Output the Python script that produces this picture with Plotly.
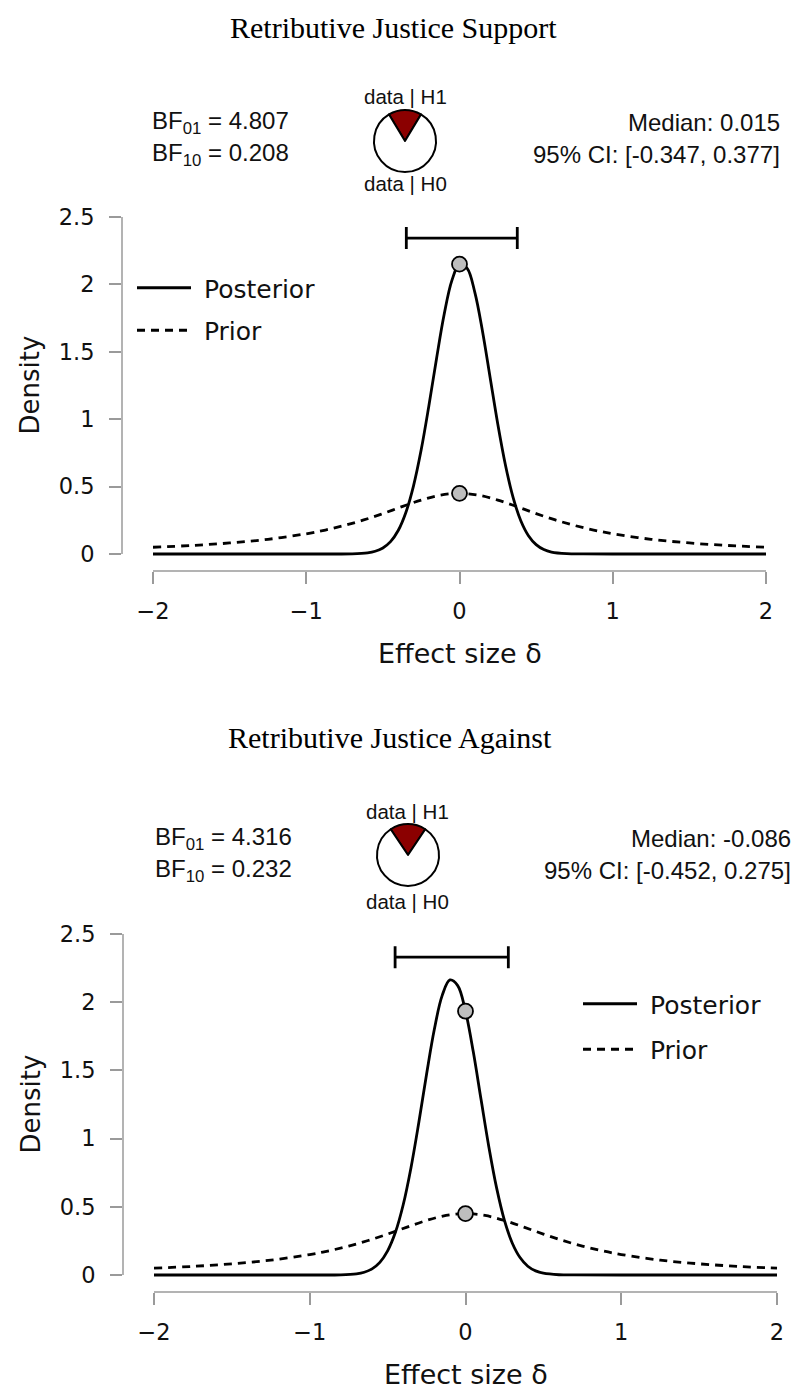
import plotly.graph_objects as go

# ---------------- data ----------------
titles = ["Retributive Justice Support", "Retributive Justice Against"]
bf01 = [4.807, 4.316]
bf10 = [0.208, 0.232]
medians = [0.015, -0.086]
ci_low = [-0.347, -0.452]
ci_high = [0.377, 0.275]

post1_x = [-2, -1, -0.8, -0.7, -0.6, -0.55, -0.5, -0.45, -0.4, -0.35, -0.3, -0.25, -0.2, -0.15, -0.1, -0.05,
           0, 0.05, 0.1, 0.15, 0.2, 0.25, 0.3, 0.35, 0.4, 0.45, 0.5, 0.55, 0.6, 0.7, 0.8, 1, 2]
post1_y = [0, 0, 0.0001, 0.0012, 0.0086, 0.0203, 0.045, 0.0915, 0.174, 0.308, 0.506, 0.773, 1.098, 1.449, 1.778, 2.028,
           2.150, 2.119, 1.941, 1.653, 1.308, 0.963, 0.659, 0.418, 0.247, 0.136, 0.0695, 0.033, 0.0145, 0.0023, 0.0003, 0, 0]

post2_x = [-2, -1, -0.8, -0.7, -0.65, -0.6, -0.55, -0.5, -0.45, -0.4, -0.35, -0.3, -0.25, -0.2, -0.15, -0.1, -0.05,
           0, 0.05, 0.1, 0.15, 0.2, 0.25, 0.3, 0.35, 0.4, 0.45, 0.5, 0.6, 0.7, 1, 2]
post2_y = [0, 0, 0.0012, 0.0086, 0.0204, 0.0451, 0.0927, 0.177, 0.313, 0.515, 0.787, 1.116, 1.472, 1.801, 2.048, 2.163, 2.122,
           1.934, 1.636, 1.286, 0.939, 0.637, 0.401, 0.235, 0.128, 0.0644, 0.0302, 0.0131, 0.0020, 0.0002, 0, 0]

prior_x = [-2, -1.75, -1.5, -1.25, -1, -0.875, -0.75, -0.625, -0.5, -0.375, -0.25, -0.125,
           0, 0.125, 0.25, 0.375, 0.5, 0.625, 0.75, 0.875, 1, 1.25, 1.5, 1.75, 2]
prior_y = [0.050, 0.0632, 0.0819, 0.109, 0.150, 0.1779, 0.212, 0.2527, 0.300, 0.3514, 0.400, 0.4366,
           0.450, 0.4366, 0.400, 0.3514, 0.300, 0.2527, 0.212, 0.1779, 0.150, 0.109, 0.0819, 0.0632, 0.050]

points1_x = [0, 0]
points1_y = [2.150, 0.450]
points2_x = [0, 0]
points2_y = [1.934, 0.450]

ci_level = [2.344, 2.33]

x_ticks = [-2, -1, 0, 1, 2]
y_ticks = [0, 0.5, 1, 1.5, 2, 2.5]

# ---------------- layout helpers (pixel geometry) ----------------
W, H = 810, 1393
def px(x):
    return x / W
def py(y):
    return 1 - y / H

geo = [
    dict(L=122, R=790, T=200, B=571, xm2=153, xp2=766, y0=554, y25=217),
    dict(L=123, R=800, T=920, B=1292, xm2=154, xp2=777, y0=1275, y25=934),
]

fig = go.Figure()

posts = [(post1_x, post1_y), (post2_x, post2_y)]
pts = [(points1_x, points1_y), (points2_x, points2_y)]
axis_col = "#9a9a9a"
text_col = "#111111"

layout_axes = {}
shapes = []
annotations = []

def ann(text, x, y, font, xanchor="center", **kw):
    d = dict(text=text, xref="paper", yref="paper", x=px(x), y=py(y), xanchor=xanchor, yanchor="middle",
             showarrow=False, font=font)
    d.update(kw)
    annotations.append(d)

tickfont = dict(family="DejaVu Sans", size=22.5, color=text_col)
for i, g in enumerate(geo):
    sx = (g["xp2"] - g["xm2"]) / 4.0
    sy = (g["y0"] - g["y25"]) / 2.5
    xr = [-2 - (g["xm2"] - g["L"]) / sx, 2 + (g["R"] - g["xp2"]) / sx]
    yr = [-(g["B"] - g["y0"]) / sy, 2.5 + (g["y25"] - g["T"]) / sy]
    xa = "x" if i == 0 else "x2"
    ya = "y" if i == 0 else "y2"
    xkey = "xaxis" if i == 0 else "xaxis2"
    ykey = "yaxis" if i == 0 else "yaxis2"
    layout_axes[xkey] = dict(
        domain=[px(g["L"]), px(g["R"])], range=xr, anchor=ya,
        tickvals=x_ticks, ticks="outside", ticklen=12, tickwidth=1.5, tickcolor=axis_col,
        showline=False, showgrid=False, zeroline=False, ticklabelstandoff=8, tickfont=tickfont,
    )
    layout_axes[ykey] = dict(
        domain=[py(g["B"]), py(g["T"])], range=yr, anchor=xa,
        tickvals=y_ticks, ticks="outside", ticklen=12, tickwidth=1.5, tickcolor=axis_col,
        showline=False, showgrid=False, zeroline=False, ticklabelstandoff=10, tickfont=tickfont,
    )
    shapes.append(dict(type="line", xref=xa + " domain", yref=ya, x0=0, x1=0, y0=0, y1=2.5,
                       line=dict(color=axis_col, width=1.5)))
    shapes.append(dict(type="line", xref=xa, yref=ya + " domain", x0=-2, x1=2, y0=0, y1=0,
                       line=dict(color=axis_col, width=1.5)))

    leg = "legend" if i == 0 else "legend2"
    fig.add_trace(go.Scatter(x=prior_x, y=prior_y, mode="lines",
                             line=dict(color="black", width=2.8, dash="8px,6px", shape="spline"),
                             name="\u00a0Prior", xaxis=xa, yaxis=ya, legend=leg, legendgroup=f"b{i}",
                             legendrank=2, hoverinfo="skip"))
    fig.add_trace(go.Scatter(x=posts[i][0], y=posts[i][1], mode="lines",
                             line=dict(color="black", width=2.8, shape="spline"),
                             name="\u00a0Posterior", xaxis=xa, yaxis=ya, legend=leg, legendgroup=f"a{i}",
                             legendrank=1, hoverinfo="skip"))
    fig.add_trace(go.Scatter(x=[medians[i]], y=[ci_level[i]], mode="markers",
                             marker=dict(size=1, color="rgba(0,0,0,0)"),
                             error_x=dict(type="data", symmetric=False, array=[ci_high[i] - medians[i]],
                                          arrayminus=[medians[i] - ci_low[i]], color="black", thickness=2.8, width=11),
                             xaxis=xa, yaxis=ya, showlegend=False, hoverinfo="skip"))
    fig.add_trace(go.Scatter(x=pts[i][0], y=pts[i][1], mode="markers",
                             marker=dict(size=15, color="#bebebe", line=dict(color="black", width=1.8)),
                             xaxis=xa, yaxis=ya, showlegend=False, hoverinfo="skip"))

    ann("Density", 30, (g["y0"] + g["y25"]) / 2, dict(family="DejaVu Sans", size=26, color=text_col), textangle=-90)
    ann("Effect size δ", (g["xm2"] + g["xp2"]) / 2, g["B"] + 82, dict(family="DejaVu Sans", size=27, color=text_col))

hdr = [
    dict(title_y=27, title_x=393, bf_x=150, bf1_y=122, bf2_y=155, pie_cx=405, pie_cy=141, pie_r=31,
         h1_y=96, h0_y=184, med_x=782),
    dict(title_y=737, title_x=390, bf_x=153, bf1_y=838, bf2_y=870, pie_cx=408, pie_cy=855, pie_r=31,
         h1_y=811, h0_y=901, med_x=793),
]
nfont = dict(family="Liberation Sans, Arial", size=24, color=text_col)
sfont = dict(family="Liberation Sans, Arial", size=20.5, color=text_col)
for i, h in enumerate(hdr):
    ann(titles[i], h["title_x"], h["title_y"], dict(family="Liberation Serif", size=30, color="black"))
    ann(f"BF<sub>01</sub> = {bf01[i]:.3f}", h["bf_x"], h["bf1_y"], nfont, xanchor="left")
    ann(f"BF<sub>10</sub> = {bf10[i]:.3f}", h["bf_x"], h["bf2_y"], nfont, xanchor="left")
    ann(f"Median: {medians[i]:.3f}", h["med_x"], h["bf1_y"], nfont, xanchor="right")
    ann(f"95% CI: [{ci_low[i]:.3f}, {ci_high[i]:.3f}]", h["med_x"], h["bf2_y"], nfont, xanchor="right")
    ann("data | H1", h["pie_cx"], h["h1_y"], sfont)
    ann("data | H0", h["pie_cx"], h["h0_y"], sfont)
    share = bf10[i] / (1 + bf10[i])
    fig.add_trace(go.Pie(values=[bf10[i], 1.0], labels=["H1", "H0"], sort=False, direction="clockwise",
                         rotation=-share * 180, textinfo="none", hoverinfo="skip", showlegend=False,
                         marker=dict(colors=["#8b0000", "white"], line=dict(color="black", width=2)),
                         domain=dict(x=[px(h["pie_cx"] - h["pie_r"]), px(h["pie_cx"] + h["pie_r"])],
                                     y=[py(h["pie_cy"] + h["pie_r"]), py(h["pie_cy"] - h["pie_r"])])))

legfont = dict(family="DejaVu Sans", size=25, color=text_col)
fig.update_layout(
    width=W, height=H, margin=dict(l=0, r=0, t=0, b=0),
    paper_bgcolor="white", plot_bgcolor="white",
    shapes=shapes, annotations=annotations,
    legend=dict(x=px(132), y=py(265), xanchor="left", yanchor="top", font=legfont, bgcolor="rgba(0,0,0,0)",
                itemwidth=54, tracegroupgap=7, traceorder="grouped"),
    legend2=dict(x=px(578), y=py(981), xanchor="left", yanchor="top", font=legfont, bgcolor="rgba(0,0,0,0)",
                 itemwidth=54, tracegroupgap=10, traceorder="grouped"),
    **layout_axes,
)

fig.write_html("out.html")
